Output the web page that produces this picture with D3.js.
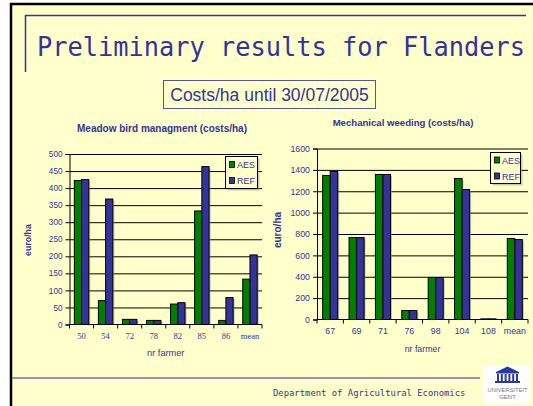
<!DOCTYPE html>
<html>
<head>
<meta charset="utf-8">
<script src="https://cdn.jsdelivr.net/npm/d3@7"></script>
<style>
  html, body { margin: 0; padding: 0; background: #fff; }
  svg { display: block; }
</style>
</head>
<body>
<svg id="slide" width="533" height="406"></svg>
<script>
// Slide data
const seriesNames = ["AES", "REF"];
const seriesColors = ["#007f00", "#333399"];

const meadowFarmers = ["50", "54", "72", "78", "82", "85", "86", "mean"];
const meadowAES = [422, 70, 15, 12, 60, 333, 12, 133];
const meadowREF = [425, 368, 15, 12, 64, 463, 79, 204];
const meadowTicks = [0, 50, 100, 150, 200, 250, 300, 350, 400, 450, 500];

const weedFarmers = ["67", "69", "71", "76", "98", "104", "108", "mean"];
const weedAES = [1347, 767, 1357, 84, 393, 1319, 6, 758];
const weedREF = [1385, 767, 1357, 84, 393, 1216, 6, 748];
const weedTicks = [0, 200, 400, 600, 800, 1000, 1200, 1400, 1600];

const ink = "#333399";
const sans = "'Liberation Sans', Arial, sans-serif";
const serif = "'Liberation Serif', 'Times New Roman', serif";
const mono = "'DejaVu Sans Mono', monospace";

const svg = d3.select("#slide");

// Slide background and frame
svg.append("rect").attr("x", 11).attr("y", 4).attr("width", 522).attr("height", 402).attr("fill", "#ffffcc");
svg.append("line").attr("x1", 10).attr("x2", 533).attr("y1", 4).attr("y2", 4).attr("stroke", "#000").attr("stroke-width", 2.5);
svg.append("line").attr("x1", 11).attr("x2", 11).attr("y1", 3).attr("y2", 406).attr("stroke", "#000").attr("stroke-width", 2.5);

// Title rule
svg.append("line").attr("x1", 25.5).attr("x2", 526).attr("y1", 15.5).attr("y2", 15.5).attr("stroke", ink).attr("stroke-width", 1.5);
svg.append("line").attr("x1", 25.5).attr("x2", 25.5).attr("y1", 15).attr("y2", 72).attr("stroke", ink).attr("stroke-width", 1.5);

svg.append("text").attr("x", 37).attr("y", 56)
  .attr("font-family", mono).attr("font-size", 26).attr("fill", ink)
  .attr("textLength", 488).attr("lengthAdjust", "spacingAndGlyphs")
  .text("Preliminary results for Flanders");

// Subtitle box
svg.append("rect").attr("x", 163.5).attr("y", 80.5).attr("width", 212).attr("height", 28)
  .attr("fill", "none").attr("stroke", "#555599").attr("stroke-width", 1);
svg.append("text").attr("x", 269.5).attr("y", 101).attr("text-anchor", "middle")
  .attr("font-family", sans).attr("font-size", 17.5).attr("fill", ink)
  .text("Costs/ha until 30/07/2005");

// Footer
svg.append("line").attr("x1", 12).attr("x2", 480).attr("y1", 378).attr("y2", 378).attr("stroke", "#6f6fb0").attr("stroke-width", 1.5);
svg.append("text").attr("x", 273).attr("y", 396)
  .attr("font-family", mono).attr("font-size", 8.9).attr("fill", ink)
  .text("Department of Agricultural Economics");

// University logo
const logo = svg.append("g");
logo.append("rect").attr("x", 483).attr("y", 366).attr("width", 47).attr("height", 37).attr("fill", "#fff");
logo.append("path").attr("d", "M496,372 L507.5,366.5 L519,372 Z").attr("fill", "#2a3aa0");
logo.append("rect").attr("x", 496).attr("y", 372).attr("width", 23).attr("height", 1.5).attr("fill", "#2a3aa0");
d3.range(6).forEach(i => {
  logo.append("rect").attr("x", 497 + i * 3.8).attr("y", 374).attr("width", 2).attr("height", 7).attr("fill", "#2a3aa0");
});
logo.append("rect").attr("x", 495).attr("y", 381).attr("width", 25).attr("height", 2).attr("fill", "#2a3aa0");
logo.append("text").attr("x", 507.5).attr("y", 392).attr("text-anchor", "middle")
  .attr("font-family", sans).attr("font-size", 6).attr("fill", "#777").attr("textLength", 40).attr("lengthAdjust", "spacingAndGlyphs")
  .text("UNIVERSITEIT");
logo.append("text").attr("x", 507.5).attr("y", 399).attr("text-anchor", "middle")
  .attr("font-family", sans).attr("font-size", 6).attr("fill", "#777")
  .text("GENT");

function drawChart(cfg) {
  const g = svg.append("g");
  const data = cfg.categories.map((c, i) => ({ cat: c, values: [cfg.aes[i], cfg.ref[i]] }));

  const x = d3.scaleBand().domain(cfg.categories).range([cfg.left, cfg.right])
    .paddingInner(cfg.pad).paddingOuter(cfg.pad / 2);
  const xs = d3.scaleBand().domain(seriesNames).range([0, x.bandwidth()]);
  const y = d3.scaleLinear().domain([0, cfg.max]).range([cfg.bottom, cfg.top]);

  // gridlines
  g.append("g").attr("transform", `translate(${cfg.left},0)`)
    .call(d3.axisLeft(y).tickValues(cfg.ticks.slice(1)).tickSize(-(cfg.right - cfg.left)).tickFormat(""))
    .call(a => a.select(".domain").remove())
    .call(a => a.selectAll("line").attr("stroke", "#000").attr("stroke-width", 1));

  // bars with soft shadow
  const groups = g.selectAll("g.cat").data(data).join("g").attr("class", "cat")
    .attr("transform", d => `translate(${x(d.cat)},0)`);
  groups.selectAll("rect.shadow").data(d => d.values.map((v, k) => ({ v, k })))
    .join("rect").attr("class", "shadow")
    .attr("x", d => xs(seriesNames[d.k]) + 1.5)
    .attr("y", d => y(d.v) + 1.5)
    .attr("width", xs.bandwidth())
    .attr("height", d => Math.max(0, cfg.bottom - y(d.v) - 1.5))
    .attr("fill", "#8a8a70").attr("opacity", 0.55);
  groups.selectAll("rect.bar").data(d => d.values.map((v, k) => ({ v, k })))
    .join("rect").attr("class", "bar")
    .attr("x", d => xs(seriesNames[d.k]))
    .attr("y", d => y(d.v))
    .attr("width", xs.bandwidth())
    .attr("height", d => cfg.bottom - y(d.v))
    .attr("fill", d => seriesColors[d.k])
    .attr("stroke", "#000").attr("stroke-width", 1);

  // y axis
  g.append("g").attr("transform", `translate(${cfg.left},0)`)
    .call(d3.axisLeft(y).tickValues(cfg.ticks).tickSize(4).tickPadding(3).tickFormat(d3.format("d")))
    .call(a => a.select(".domain").attr("stroke", "#000"))
    .call(a => a.selectAll("line").attr("stroke", "#000"))
    .call(a => a.selectAll("text").attr("fill", ink).attr("font-family", sans).attr("font-size", cfg.tickSize));

  // x axis: labels under categories, ticks at category boundaries
  g.append("g").attr("transform", `translate(0,${cfg.bottom})`)
    .call(d3.axisBottom(x).tickSize(0).tickPadding(cfg.xPad))
    .call(a => a.select(".domain").attr("stroke", "#000").attr("d", `M${cfg.left},0H${cfg.right}`))
    .call(a => a.selectAll("text").attr("fill", ink).attr("font-family", cfg.xFont).attr("font-size", cfg.xSize));
  const step = x.step();
  g.selectAll("line.xtick").data(d3.range(cfg.categories.length + 1)).join("line")
    .attr("x1", i => cfg.left + i * step).attr("x2", i => cfg.left + i * step)
    .attr("y1", cfg.bottom).attr("y2", cfg.bottom + 4).attr("stroke", "#000");

  // titles
  g.append("text").attr("x", cfg.titleX).attr("y", cfg.titleY).attr("text-anchor", "middle")
    .attr("font-family", sans).attr("font-weight", "bold").attr("font-size", cfg.titleSize).attr("fill", ink)
    .text(cfg.title);
  g.append("text").attr("x", (cfg.left + cfg.right) / 2).attr("y", cfg.xTitleY).attr("text-anchor", "middle")
    .attr("font-family", sans).attr("font-size", cfg.xTitleSize).attr("fill", ink)
    .text("nr farmer");
  g.append("text").attr("transform", `translate(${cfg.yTitleX},${cfg.yTitleY}) rotate(-90)`)
    .attr("text-anchor", "middle")
    .attr("font-family", sans).attr("font-weight", "bold").attr("font-size", cfg.yTitleSize).attr("fill", ink)
    .text("euro/ha");

  // legend
  const L = cfg.legend;
  g.append("rect").attr("x", L.x + 2).attr("y", L.y + 2).attr("width", L.w).attr("height", L.h).attr("fill", "#9a9a80").attr("opacity", 0.5);
  g.append("rect").attr("x", L.x).attr("y", L.y).attr("width", L.w).attr("height", L.h)
    .attr("fill", "#ffffcc").attr("stroke", "#000").attr("stroke-width", 1);
  seriesNames.forEach((s, k) => {
    const cy = L.y + L.first + k * L.gap;
    g.append("rect").attr("x", L.x + 4).attr("y", cy - 3).attr("width", 5).attr("height", 6)
      .attr("fill", seriesColors[k]).attr("stroke", "#000").attr("stroke-width", 0.8);
    g.append("text").attr("x", L.x + 11.5).attr("y", cy + 3.5)
      .attr("font-family", sans).attr("font-size", L.size).attr("fill", ink)
      .text(s);
  });
}

drawChart({
  categories: meadowFarmers, aes: meadowAES, ref: meadowREF, ticks: meadowTicks, max: 500,
  left: 69.5, right: 262, top: 154, bottom: 324.5, pad: 0.4,
  tickSize: 8.2, xFont: serif, xSize: 8.5, xPad: 8,
  title: "Meadow bird managment (costs/ha)", titleX: 162, titleY: 132, titleSize: 10,
  xTitleY: 356, xTitleSize: 9.2, yTitleX: 31, yTitleY: 240, yTitleSize: 8.8,
  legend: { x: 225.5, y: 156.5, w: 32, h: 32, first: 8, gap: 16, size: 9 }
});

drawChart({
  categories: weedFarmers, aes: weedAES, ref: weedREF, ticks: weedTicks, max: 1600,
  left: 317, right: 528, top: 148.5, bottom: 319.5, pad: 0.43,
  tickSize: 8.8, xFont: sans, xSize: 8.8, xPad: 8,
  title: "Mechanical weeding (costs/ha)", titleX: 403, titleY: 126, titleSize: 9.6,
  xTitleY: 352, xTitleSize: 8.8, yTitleX: 281, yTitleY: 230, yTitleSize: 10,
  legend: { x: 490.5, y: 152.5, w: 30, h: 31, first: 7.5, gap: 16, size: 9 }
});
</script>
</body>
</html>
